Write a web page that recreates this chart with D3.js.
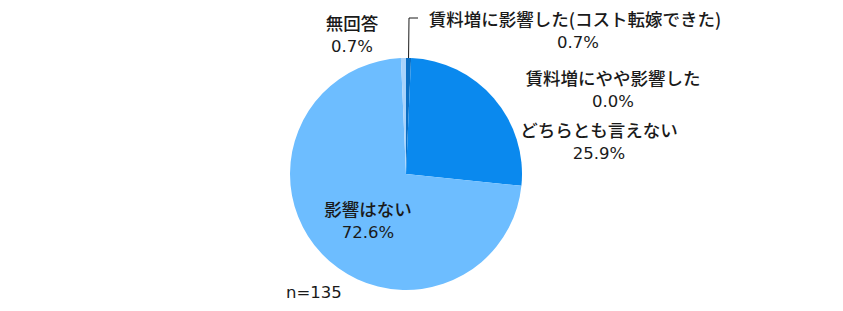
<!DOCTYPE html>
<html>
<head>
<meta charset="utf-8">
<script src="https://cdn.jsdelivr.net/npm/d3@7"></script>
<style>
  body { margin: 0; background: #fff; }
  text { font-family: "DejaVu Sans", "Noto Sans CJK JP", sans-serif; font-size: 16.5px; fill: #1a1a1a; }
  text.cat { font-family: "Noto Sans CJK JP", sans-serif; font-size: 17.5px; font-weight: 500; }
</style>
</head>
<body>
<div id="root"></div>
<script>
// data (clockwise from 12 o'clock)
var categories = ["賃料増に影響した(コスト転嫁できた)", "賃料増にやや影響した", "どちらとも言えない", "影響はない", "無回答"]
var values = [0.7, 0.0, 25.9, 72.6, 0.7]
var colors = ["#0a6fc4", "#0a5fb0", "#0a89ee", "#6dbdff", "#a9d3fb"]
var nLabel = "n=135"

var width = 843
var height = 311
var cx = 406, cy = 174, r = 116

var svg = d3.select("#root")
            .append("svg")
            .attr("width", width)
            .attr("height", height)

var pie = d3.pie().sort(null).value(function(d){ return d })
var arcs = pie(values)
var arc = d3.arc().innerRadius(0).outerRadius(r)

var g = svg.append("g").attr("transform", "translate(" + cx + "," + cy + ")")

g.selectAll("path")
  .data(arcs)
  .enter()
  .append("path")
    .attr("d", arc)
    .attr("fill", function(d, i){ return colors[i] })

// label positions (center of text block, first line baseline)
var labelPos = [
  {x: 575, y: 26, vx: 578},
  {x: 613, y: 85},
  {x: 599, y: 137},
  {x: 368, y: 216},
  {x: 352, y: 30}
]

labelPos.forEach(function(p, i){
  svg.append("text")
    .attr("class", "cat")
    .attr("text-anchor", "middle")
    .attr("x", p.x).attr("y", p.y)
    .text(categories[i])
  svg.append("text")
    .attr("text-anchor", "middle")
    .attr("x", p.vx || p.x).attr("y", p.y + 22)
    .text(values[i].toFixed(1) + "%")
})

// leader line for the first slice
var a0 = (arcs[0].startAngle + arcs[0].endAngle) / 2
var px = cx + Math.sin(a0) * r
var py = cy - Math.cos(a0) * r
svg.append("polyline")
  .attr("points", [[px, py], [409, 18], [418, 18]].map(function(d){ return d.join(",") }).join(" "))
  .attr("fill", "none")
  .attr("stroke", "#1a1a1a")
  .attr("stroke-width", 1)

svg.append("text")
  .attr("x", 286)
  .attr("y", 298)
  .text(nLabel)
</script>
</body>
</html>
